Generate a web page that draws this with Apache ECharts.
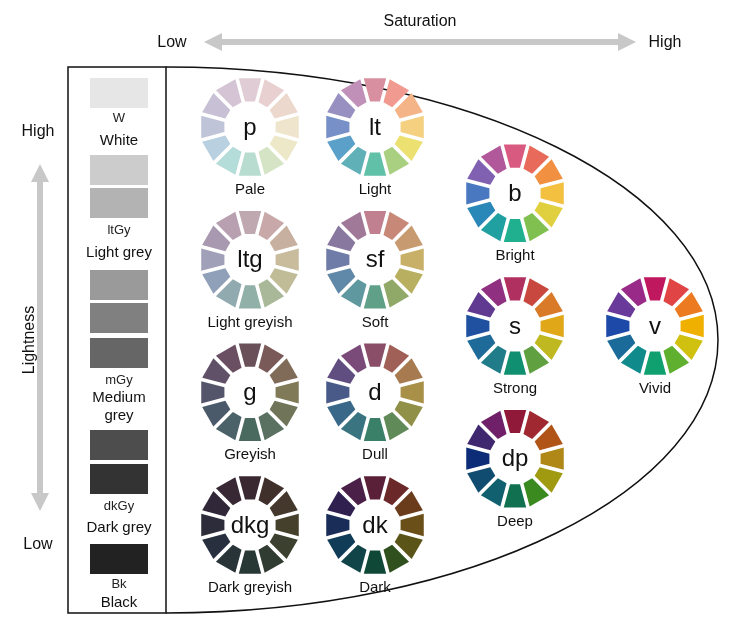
<!DOCTYPE html>
<html><head><meta charset="utf-8">
<script src="https://cdn.jsdelivr.net/npm/echarts@6/dist/echarts.min.js"></script>
<style>html,body{margin:0;padding:0;background:#fff}#c{width:736px;height:626px}</style>
</head><body><div id="c"></div>
<script>
const toneCodes = ['p','lt','b','ltg','sf','s','v','g','d','dp','dkg','dk'];
const toneNames = ['Pale','Light','Bright','Light greyish','Soft','Strong','Vivid','Greyish','Dull','Deep','Dark greyish','Dark'];
const saturation = [1,2,3.12,1,2,3.12,4.24,1,2,3.12,1,2];
const lightness = [9,9,8,7,7,6,6,5,5,4,3,3];
const toneColors = [
 ['#e0ccd4','#e8d0d0','#ecd8cc','#efe4cc','#ece8c8','#d4e4c4','#b8dcd0','#b4dcd8','#b8d0e0','#c0c4d8','#c8c0d4','#d4c4d4'],
 ['#d890a0','#f09a90','#f4b488','#f4d080','#ece070','#a8d080','#60c0a8','#60b0b8','#5aa0c8','#7890c8','#9890c0','#c090b8'],
 ['#d85a80','#e86a5a','#f09040','#f4c040','#e0d040','#80c050','#20b090','#20a0a0','#2a88b8','#4a78c0','#8060b0','#b0589a'],
 ['#c0a8b0','#c8a8a8','#c8b0a0','#c8bc9c','#c0bc98','#a8b898','#90b0a8','#90aab0','#90a0b8','#a0a0b8','#a898b0','#b8a0b0'],
 ['#c08090','#c88878','#c89a70','#c8b068','#b8b060','#90a868','#60a088','#6098a0','#6088a8','#707ca8','#8878a0','#a07898'],
 ['#b03060','#c84840','#d87a28','#e0a818','#c0b820','#60a040','#109070','#207c88','#1e6a98','#2050a0','#603a90','#903080'],
 ['#c0185e','#e04444','#ec7a20','#f0b000','#d0c010','#60b030','#10a070','#108a8a','#1a6a9a','#1d4aa8','#6a3a9a','#9a2a88'],
 ['#6a5058','#7a5a58','#806a58','#807a58','#707458','#5a7060','#4a6a60','#4a6268','#4a5a6a','#54546a','#605068','#6a4e62'],
 ['#8a4e68','#a06058','#a87a50','#a89048','#909048','#608a58','#3a8068','#3a7480','#3a6888','#4a5a88','#604e80','#7a4a78'],
 ['#901838','#a02830','#b05418','#b08818','#a09a10','#3a8a20','#107050','#106070','#104c70','#0c2c78','#402870','#702068'],
 ['#3a2830','#40302c','#44382c','#44402c','#3c402e','#303c32','#283834','#283438','#283040','#2c2c3a','#302838','#382834'],
 ['#5a2038','#6a2828','#6a3c1c','#6a5018','#5a5418','#30501e','#104838','#104448','#103c58','#1a2c58','#302050','#4a2048']
];
const greyCodes = ['W','ltGy','mGy','dkGy','Bk'];
const greyNames = ['White','Light grey','Medium\ngrey','Dark grey','Black'];
const greySwatches = [['#e6e6e6'],['#cccccc','#b3b3b3'],['#9a9a9a','#808080','#666666'],['#4d4d4d','#333333'],['#222222']];

const chart = echarts.init(document.getElementById('c'));
const FONT = 'Liberation Sans, Arial, sans-serif';

function wheel(params, api){
  const idx = params.dataIndex;
  const c = api.coord([api.value(0), api.value(1)]);
  const R = 50, r0 = 26, g = 1.8;
  const kids = [];
  const cols = toneColors[idx];
  const P = (r, th, s) => [c[0] + r*Math.cos(th) - s*g*Math.sin(th), c[1] + r*Math.sin(th) + s*g*Math.cos(th)];
  for (let i = 0; i < 12; i++){
    const a1 = -Math.PI/2 + (i - 0.5)*Math.PI/6, a2 = a1 + Math.PI/6;
    kids.push({type:'polygon', shape:{points:[P(r0,a1,1),P(R,a1,1),P(R,a2,-1),P(r0,a2,-1)]}, style:{fill:cols[i]}});
  }
  kids.push({type:'text', style:{text:toneCodes[idx], x:c[0], y:c[1]+1, align:'center', verticalAlign:'middle', font:'24px '+FONT, fill:'#111'}});
  kids.push({type:'text', style:{text:toneNames[idx], x:c[0], y:c[1]+63, align:'center', verticalAlign:'middle', font:'15px '+FONT, fill:'#111'}});
  return {type:'group', children:kids};
}

const gr = [];
const swY = [[78],[155,188],[270,303,338],[430,464],[544]];
const codeY = [118,230,380,506,584], nameY = [141,253,407,528,603];
greySwatches.forEach((arr, k) => {
  arr.forEach((col, j) => gr.push({type:'rect', shape:{x:90,y:swY[k][j],width:58,height:30}, style:{fill:col}}));
  gr.push({type:'text', style:{text:greyCodes[k], x:119, y:codeY[k], align:'center', verticalAlign:'middle', font:'13px '+FONT, fill:'#222'}});
  gr.push({type:'text', style:{text:greyNames[k], x:119, y:nameY[k], align:'center', verticalAlign:'middle', font:'15px '+FONT, fill:'#111', lineHeight:18}});
});
gr.push({type:'rect', shape:{x:68,y:67,width:98,height:546}, style:{fill:null, stroke:'#111', lineWidth:1.5}});
const K = 0.5523, ex = 166, ey = 340, rx = 552, ry = 273;
gr.push({type:'bezierCurve', shape:{x1:ex,y1:ey-ry,x2:ex+rx,y2:ey,cpx1:ex+K*rx,cpy1:ey-ry,cpx2:ex+rx,cpy2:ey-K*ry}, style:{fill:null, stroke:'#111', lineWidth:1.5}});
gr.push({type:'bezierCurve', shape:{x1:ex+rx,y1:ey,x2:ex,y2:ey+ry,cpx1:ex+rx,cpy1:ey+K*ry,cpx2:ex+K*rx,cpy2:ey+ry}, style:{fill:null, stroke:'#111', lineWidth:1.5}});
gr.push({type:'rect', shape:{x:216,y:39,width:408,height:6}, style:{fill:'#c8c8c8'}});
gr.push({type:'polygon', shape:{points:[[204,42],[222,33],[222,51]]}, style:{fill:'#c8c8c8'}});
gr.push({type:'polygon', shape:{points:[[636,42],[618,33],[618,51]]}, style:{fill:'#c8c8c8'}});
gr.push({type:'text', style:{text:'Saturation', x:420, y:22, align:'center', verticalAlign:'middle', font:'16px '+FONT, fill:'#111'}});
gr.push({type:'text', style:{text:'Low', x:172, y:43, align:'center', verticalAlign:'middle', font:'16px '+FONT, fill:'#111'}});
gr.push({type:'text', style:{text:'High', x:665, y:43, align:'center', verticalAlign:'middle', font:'16px '+FONT, fill:'#111'}});
gr.push({type:'rect', shape:{x:37,y:177,width:6,height:322}, style:{fill:'#c8c8c8'}});
gr.push({type:'polygon', shape:{points:[[40,164],[31,182],[49,182]]}, style:{fill:'#c8c8c8'}});
gr.push({type:'polygon', shape:{points:[[40,511],[31,493],[49,493]]}, style:{fill:'#c8c8c8'}});
gr.push({type:'text', style:{text:'High', x:38, y:132, align:'center', verticalAlign:'middle', font:'16px '+FONT, fill:'#111'}});
gr.push({type:'text', style:{text:'Low', x:38, y:545, align:'center', verticalAlign:'middle', font:'16px '+FONT, fill:'#111'}});
gr.push({type:'text', x:30, y:340, rotation:Math.PI/2, style:{text:'Lightness', x:0, y:0, align:'center', verticalAlign:'middle', font:'16px '+FONT, fill:'#111'}});

chart.setOption({
  animation:false,
  grid:{left:250, right:81, top:127, bottom:101},
  xAxis:{type:'value', min:1, max:4.24, show:false},
  yAxis:{type:'value', min:3, max:9, show:false},
  graphic:gr,
  series:[{type:'custom', renderItem:wheel, data:saturation.map((s,i)=>[s, lightness[i]])}]
});
</script></body></html>
